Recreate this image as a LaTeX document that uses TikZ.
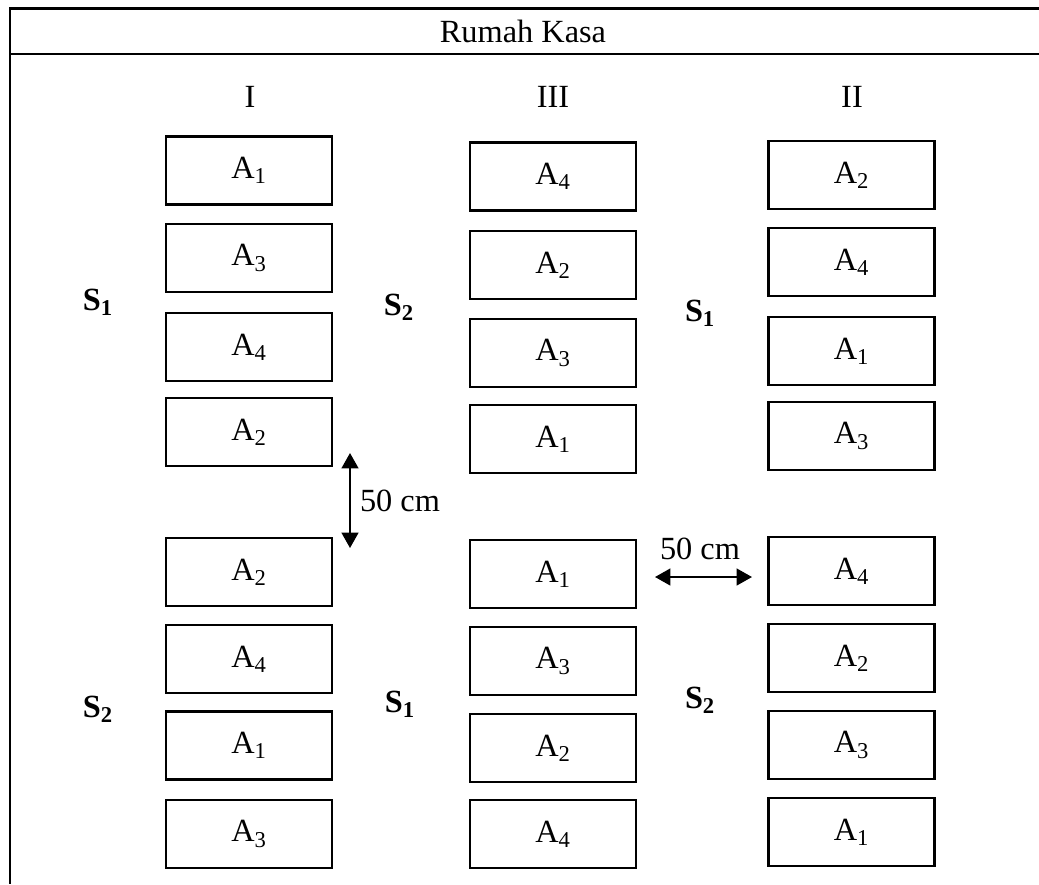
\documentclass[tikz,border=0pt]{standalone}
\usepackage{fontspec}
\setmainfont{Liberation Serif}
\usetikzlibrary{arrows.meta}

\newcommand{\teks}{\fontsize{23}{27}\selectfont}

\tikzset{
  frame/.style={line width=1.5pt},
  plot/.style={draw,line width=1.8pt,minimum width=4.15cm,minimum height=1.7cm,inner sep=0pt},
  blok/.style={font=\teks\bfseries},
  jarak/.style={line width=1.5pt,{Triangle[length=11pt,width=12pt]}-{Triangle[length=11pt,width=12pt]}}
}

\begin{document}
\begin{tikzpicture}[x=0.025cm,y=-0.025cm,font=\teks]
\useasboundingbox (0,0) rectangle (1039,884);
% greenhouse frame
\draw[frame] (1039,8.5) -- (10,8.5) -- (10,884);
\draw[frame] (10,54) -- (1039,54);
\node (title) at (523,31) {Rumah Kasa};
% replications
\node (r1) at (250,97) {I};
\node (r3) at (553,97) {III};
\node (r2) at (852,97) {II};
% plots, column I
\foreach \y/\a [count=\i] in {170.5/1,258/3,347/4,432/2,572/2,659/4,745.5/1,834/3}
  \node[plot] (I\i) at (249,\y) {A\textsubscript{\a}};
% plots, column III
\foreach \y/\a [count=\i] in {176.5/4,265/2,353/3,439/1,574/1,661/3,748/2,834/4}
  \node[plot] (III\i) at (553,\y) {A\textsubscript{\a}};
% plots, column II
\foreach \y/\a [count=\i] in {175/2,262/4,351/1,436/3,571/4,658/2,745/3,832/1}
  \node[plot] (II\i) at (851.5,\y) {A\textsubscript{\a}};
% sub plots
\node[blok] (s11) at (98,302) {S\textsubscript{1}};
\node[blok] (s12) at (399,307) {S\textsubscript{2}};
\node[blok] (s13) at (700,313) {S\textsubscript{1}};
\node[blok] (s21) at (98,709) {S\textsubscript{2}};
\node[blok] (s22) at (400,704) {S\textsubscript{1}};
\node[blok] (s23) at (700,700) {S\textsubscript{2}};
% spacing
\coordinate (v1) at (350,453);
\coordinate (v2) at (350,548);
\draw[jarak] (v1) -- (v2);
\node (cm1) at (400,501) {50 cm};
\coordinate (h1) at (655,577);
\coordinate (h2) at (752,577);
\draw[jarak] (h1) -- (h2);
\node (cm2) at (700,549) {50 cm};
\end{tikzpicture}
\end{document}
